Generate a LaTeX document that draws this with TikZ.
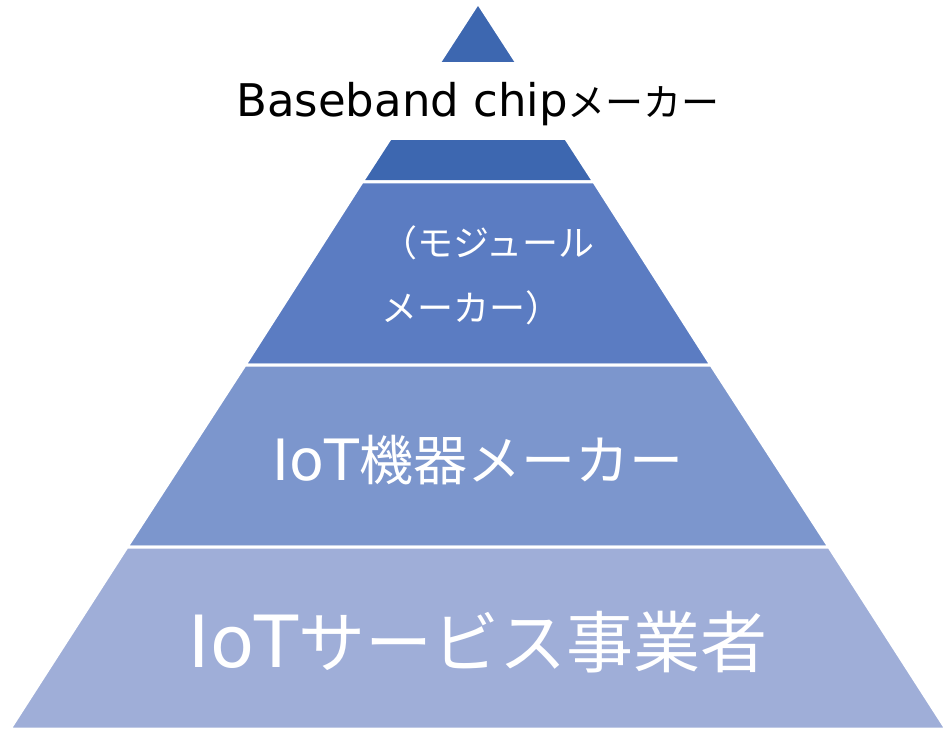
\documentclass[tikz,border=0pt]{standalone}
\usepackage{fontspec}
\setmainfont{Noto Sans CJK JP}
\newfontfamily\latinfont{DejaVu Sans}
\definecolor{bandA}{RGB}{61,103,176}
\definecolor{bandB}{RGB}{91,124,194}
\definecolor{bandC}{RGB}{124,150,205}
\definecolor{bandD}{RGB}{159,174,216}
\tikzset{
	band/.style={draw=white, line width=3pt},
	bandtext/.style={text=white, inner sep=0pt},
}
\begin{document}
\begin{tikzpicture}[x=1pt, y=-1pt]
	\useasboundingbox (0,0) rectangle (948,735);
	\coordinate (apex) at (478,3);
	\coordinate (l1) at (362,182);
	\coordinate (r1) at (594,182);
	\coordinate (l2) at (245,365);
	\coordinate (r2) at (711,365);
	\coordinate (l3) at (127,547);
	\coordinate (r3) at (829,547);
	\coordinate (l4) at (10,729);
	\coordinate (r4) at (946,729);
	\draw[band, fill=bandA] (apex) -- (r1) -- (l1) -- cycle;
	\draw[band, fill=bandB] (l1) -- (r1) -- (r2) -- (l2) -- cycle;
	\draw[band, fill=bandC] (l2) -- (r2) -- (r3) -- (l3) -- cycle;
	\draw[band, fill=bandD] (l3) -- (r3) -- (r4) -- (l4) -- cycle;
	\node[fill=white, minimum height=78pt, inner xsep=0pt, text height=40pt, text depth=8pt, font=\fontsize{38}{38}\selectfont] (chip) at (478,101) {{\latinfont\fontsize{45}{45}\selectfont Baseband chip}メーカー};
	\node[bandtext, anchor=west, align=left, font=\fontsize{36}{65}\selectfont] (module) at (381,275) {（モジュール\\メーカー）};
	\node[bandtext, anchor=base, font=\fontsize{54}{54}\selectfont] (device) at (478,480) {{\latinfont\fontsize{57}{57}\selectfont IoT}機器メーカー};
	\node[bandtext, anchor=base, font=\fontsize{67}{67}\selectfont] (service) at (478,667) {{\latinfont\fontsize{72}{72}\selectfont IoT}サービス事業者};
\end{tikzpicture}
\end{document}
